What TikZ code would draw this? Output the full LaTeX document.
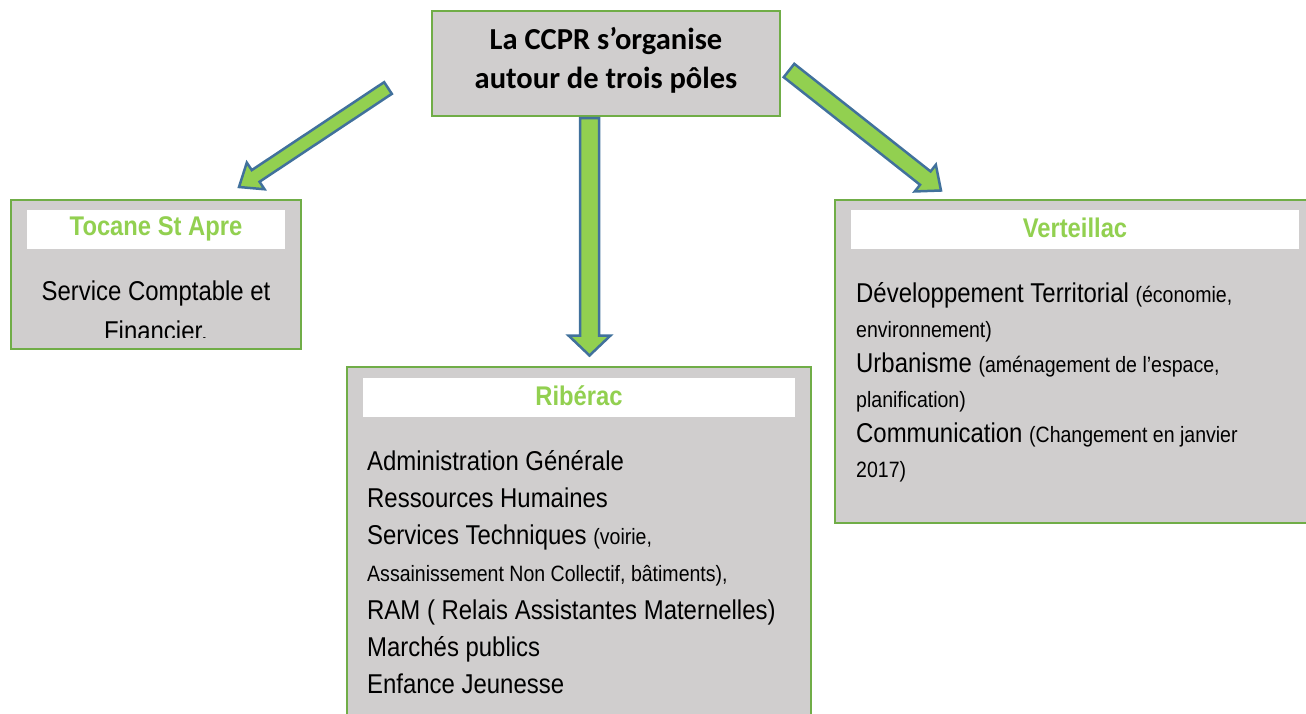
\documentclass[tikz,border=0pt]{standalone}
\usepackage{fontspec}
\setmainfont{Liberation Sans}[FakeStretch=0.88]
\newfontfamily\titrefont{Carlito}
\usepackage{tikz}
\usetikzlibrary{calc,positioning}
\definecolor{polegreen}{RGB}{112,173,71}
\definecolor{polegray}{RGB}{208,206,206}
\definecolor{headgreen}{RGB}{146,208,80}
\definecolor{arrowblue}{RGB}{65,113,156}
\tikzset{
    pole/.style     = {draw=polegreen, line width=2pt, fill=polegray,
            inner sep=0pt},
    bandeau/.style  = {fill=white, inner sep=0pt, minimum height=39pt},
    entete/.style   = {anchor=base, inner sep=0pt, text=headgreen,
            font=\fontsize{27}{30}\selectfont\bfseries},
    titre/.style    = {anchor=base, inner sep=0pt,
            font=\titrefont\fontsize{30.5}{33}\selectfont\bfseries},
    texte/.style    = {anchor=base west, inner sep=0pt,
            font=\fontsize{27.2}{32}\selectfont},
    bigarrow/.style = {draw=arrowblue, line width=2.5pt, fill=headgreen,
            line join=miter},
}
\newcommand{\petit}[1]{{\fontsize{22.2}{26}\selectfont #1}}
% fat arrow: tail, tip, half width of body, half width of head
\newcommand{\fleche}[4]{%
    \coordinate (#1-b) at ($(#2)!20pt!(#1)$);
    \draw[bigarrow] ($(#1)!#3!90:(#2)$) -- ($(#1-b)!#3!90:(#2)$)
        -- ($(#1-b)!#4!90:(#2)$) -- (#2) -- ($(#1-b)!#4!-90:(#2)$)
        -- ($(#1-b)!#3!-90:(#2)$) -- ($(#1)!#3!-90:(#2)$) -- cycle;
}
\begin{document}
\begin{tikzpicture}[x=1pt, y=-1pt]
    \useasboundingbox (0,0) rectangle (1306,713);
    \clip (0,0) rectangle (1306,713);

    % Boxes
    \node[pole, minimum width=348pt, minimum height=105pt] (ccpr) at (606,63.5) {};
    \node[pole, minimum width=290pt, minimum height=149.5pt] (tocane) at (156,274.25) {};
    \node[pole, minimum width=464pt, minimum height=373pt] (riberac) at (579,553.5) {};
    \node[pole, minimum width=485.5pt, minimum height=323.5pt] (verteillac) at (1077.25,361.25) {};

    % Headings
    \node[bandeau, minimum width=258pt] (tocaneB) at (156,229.5) {};
    \node[bandeau, minimum width=448pt] (verteillacB) at (1075,229.5) {};
    \node[bandeau, minimum width=432pt] (riberacB) at (579,397.5) {};
    \node[entete] (tocaneH) at (156,235) {Tocane St Apre};
    \node[entete] (verteillacH) at (1075,237) {Verteillac};
    \node[entete] (riberacH) at (579,405) {Ribérac};

    % Texts
    \node[titre] (titre1) at (606,49) {La CCPR s’organise};
    \node[titre] (titre2) at (606,88) {autour de trois pôles};
    \begin{scope}
        \clip (12,250) rectangle (300,337);
        \node[texte, anchor=base] (tocane1) at (156,300) {Service Comptable et};
        \node[texte, anchor=base] (tocane2) at (156,340) {Financier.};
    \end{scope}
    \foreach \ligne [count=\i from 0] in {%
        {Développement Territorial \petit{(économie,}},
        {\petit{environnement)}},
        {Urbanisme \petit{(aménagement de l’espace,}},
        {\petit{planification)}},
        {Communication \petit{(Changement en janvier}},
        {\petit{2017)}}}
        \node[texte] (vert-\i) at (856,302+35*\i) {\ligne};
    \foreach \ligne [count=\i from 0] in {%
        {Administration Générale},
        {Ressources Humaines},
        {Services Techniques \petit{(voirie,}},
        {\petit{Assainissement Non Collectif, bâtiments),}},
        {RAM ( Relais Assistantes Maternelles)},
        {Marchés publics},
        {Enfance Jeunesse}}
        \node[texte] (rib-\i) at (367,470+37.3*\i) {\ligne};

    % Arrows
    \coordinate (gTail) at (388,88);
    \coordinate (gTip) at (239,187);
    \coordinate (mTail) at (589.5,118);
    \coordinate (mTip) at (589.5,355.5);
    \coordinate (dTail) at (789,70.5);
    \coordinate (dTip) at (941,190.5);
    \fleche{gTail}{gTip}{7pt}{16pt}
    \fleche{mTail}{mTip}{9.5pt}{21pt}
    \fleche{dTail}{dTip}{8.5pt}{17pt}
\end{tikzpicture}
\end{document}
